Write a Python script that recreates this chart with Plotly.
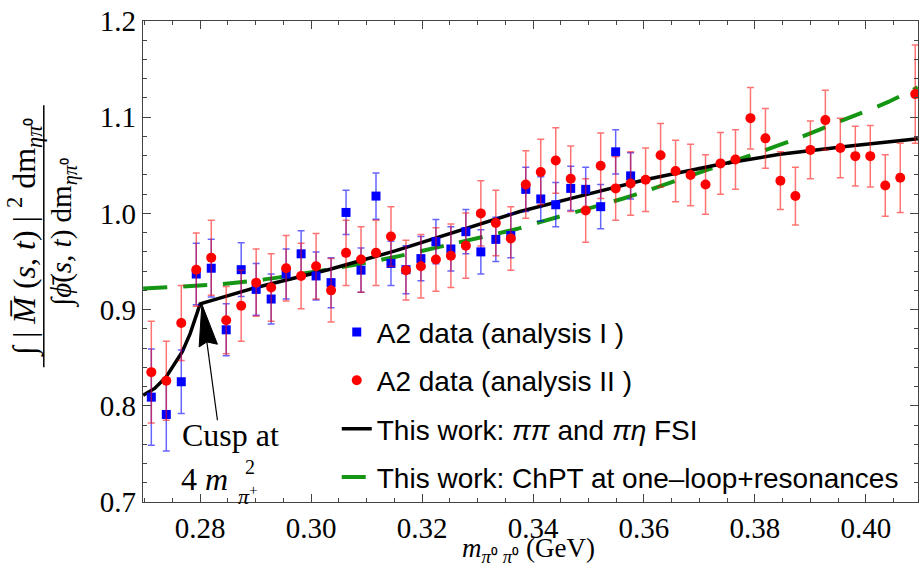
import plotly.graph_objects as go

# ---------------- data ----------------
m_pipi = [0.2712, 0.2739, 0.2766, 0.2793, 0.2820, 0.2847, 0.2874, 0.2901, 0.2928, 0.2955,
          0.2982, 0.3009, 0.3036, 0.3063, 0.3090, 0.3117, 0.3144, 0.3171, 0.3198, 0.3225,
          0.3252, 0.3279, 0.3306, 0.3333, 0.3360, 0.3387, 0.3414, 0.3441, 0.3468, 0.3495,
          0.3522, 0.3549, 0.3576, 0.3603, 0.3630, 0.3657, 0.3684, 0.3711, 0.3738, 0.3765,
          0.3792, 0.3819, 0.3846, 0.3873, 0.3900, 0.3927, 0.3954, 0.3981, 0.4008, 0.4035,
          0.4062, 0.4089]

ratio_II = [0.835, 0.826, 0.886, 0.9415, 0.954, 0.889, 0.904, 0.928, 0.923, 0.943,
            0.935, 0.945, 0.920, 0.959, 0.952, 0.959, 0.976, 0.941, 0.945, 0.952,
            0.956, 0.9665, 1.000, 0.990, 0.974, 1.030, 1.043, 1.055, 1.036, 1.003,
            1.0495, 1.026, 1.031, 1.035, 1.0605, 1.044, 1.040, 1.030, 1.052, 1.056,
            1.099, 1.078, 1.034, 1.018, 1.066, 1.097, 1.068, 1.0595, 1.0595, 1.029,
            1.037, 1.124]
err_II = [0.053, 0.041, 0.039, 0.038, 0.039, 0.035, 0.037, 0.035, 0.035, 0.034,
          0.034, 0.034, 0.033, 0.034, 0.034, 0.034, 0.031, 0.031, 0.033, 0.033,
          0.033, 0.034, 0.034, 0.034, 0.033, 0.035, 0.034, 0.034, 0.034, 0.033,
          0.034, 0.033, 0.033, 0.033, 0.033, 0.032, 0.032, 0.031, 0.032, 0.031,
          0.032, 0.031, 0.030, 0.030, 0.030, 0.031, 0.031, 0.031, 0.032, 0.032,
          0.036, 0.051]

m_pipi_I = m_pipi[:33]
ratio_I = [0.809, 0.791, 0.825, 0.937, 0.943, 0.879, 0.9415, 0.921, 0.911, 0.937,
           0.958, 0.935, 0.928, 1.001, 0.941, 1.018, 0.948, 0.9415, 0.953, 0.9706,
           0.963, 0.981, 0.960, 0.973, 0.977, 1.025, 1.015, 1.009, 1.026, 1.025,
           1.007, 1.064, 1.039]
err_I = [0.050, 0.038, 0.033, 0.032, 0.030, 0.027, 0.028, 0.027, 0.026, 0.026,
         0.024, 0.025, 0.026, 0.023, 0.023, 0.024, 0.023, 0.025, 0.023, 0.023,
         0.023, 0.023, 0.023, 0.023, 0.023, 0.023, 0.023, 0.023, 0.023, 0.023,
         0.023, 0.023, 0.024]

fsi_m = [0.26973, 0.27180, 0.27387, 0.27676, 0.27820, 0.28000, 0.29009, 0.30342, 0.31514,
         0.32595, 0.33766, 0.34847, 0.36018, 0.37369, 0.38450, 0.39712, 0.40937]
fsi_ratio = [0.811, 0.818, 0.830, 0.856, 0.875, 0.906, 0.923, 0.942, 0.961,
             0.981, 1.002, 1.018, 1.035, 1.051, 1.0615, 1.070, 1.0776]

chpt_m = [0.26973, 0.28270, 0.29117, 0.29477, 0.30342, 0.31423, 0.32595, 0.33766, 0.34126,
          0.35658, 0.36018, 0.37009, 0.38036, 0.38811, 0.39586, 0.40396, 0.40937]
chpt_ratio = [0.922, 0.926, 0.931, 0.934, 0.942, 0.9536, 0.969, 0.9847, 0.991,
              1.016, 1.0228, 1.0426, 1.0626, 1.079, 1.097, 1.1156, 1.131]

x_ticks = [0.28, 0.30, 0.32, 0.34, 0.36, 0.38, 0.40]
x_tick_labels = ["0.28", "0.30", "0.32", "0.34", "0.36", "0.38", "0.40"]
y_ticks = [0.7, 0.8, 0.9, 1.0, 1.1, 1.2]
y_tick_labels = ["0.7", "0.8", "0.9", "1.0", "1.1", "1.2"]

SERIF = "Liberation Serif"
SANS = "Liberation Sans"

fig = go.Figure()

fig.add_trace(go.Scatter(
    x=chpt_m, y=chpt_ratio, mode="lines",
    line=dict(color="rgb(20,150,20)", width=4, dash="24px,16px", shape="spline", smoothing=0.6),
    name="This work: ChPT at one\u2013loop+resonances", legendrank=4, legendgroup="d"))

fig.add_trace(go.Scatter(
    x=fsi_m, y=fsi_ratio, mode="lines",
    line=dict(color="black", width=3.5),
    name="This work: <i>\u03c0\u03c0</i> and <i>\u03c0\u03b7</i> FSI", legendrank=3, legendgroup="c"))

fig.add_trace(go.Scatter(
    x=m_pipi_I, y=ratio_I, mode="markers",
    marker=dict(symbol="square", size=9, color="rgb(0,0,255)"),
    error_y=dict(type="data", array=err_I, color="rgba(0,0,255,0.6)", thickness=1.5, width=3.5),
    name="A2 data (analysis I )", legendrank=1, legendgroup="a"))

fig.add_trace(go.Scatter(
    x=m_pipi, y=ratio_II, mode="markers",
    marker=dict(symbol="circle", size=10, color="rgb(255,0,0)"),
    error_y=dict(type="data", array=err_II, color="rgba(255,0,0,0.55)", thickness=1.5, width=3.5),
    name="A2 data (analysis II )", legendrank=2, legendgroup="b"))

axis_common = dict(showline=True, linecolor="#444", linewidth=1.2, mirror="ticks",
                   ticks="inside", ticklen=8, tickwidth=1.2, tickcolor="#444",
                   showgrid=False, zeroline=False, automargin=False,
                   tickfont=dict(family=SERIF, size=29, color="black"))

fig.update_xaxes(range=[0.2697, 0.4094], tickmode="array", tickvals=x_ticks, ticktext=x_tick_labels,
                 minor=dict(tickmode="linear", tick0=0.28, dtick=0.005, ticks="inside",
                            ticklen=4, tickcolor="#444", tickwidth=1), **axis_common)
fig.update_yaxes(range=[0.7, 1.2], tickmode="array", tickvals=y_ticks, ticktext=y_tick_labels,
                 minor=dict(tickmode="linear", tick0=0.7, dtick=0.02, ticks="inside",
                            ticklen=4, tickcolor="#444", tickwidth=1), **axis_common)

annotations = [
    # x-axis title
    dict(text="<i>m</i><sub><i>\u03c0</i>\u2070 <i>\u03c0</i>\u2070</sub> (GeV)", xref="paper", yref="paper",
         x=0.497, y=-0.1, xanchor="center", yanchor="middle", showarrow=False,
         font=dict(family=SERIF, size=27, color="black")),
    # y-axis title: numerator and denominator
    dict(text="\u222b | <i>M\u0305</i> (<i>s</i>, <i>t</i>) | <sup>2</sup> dm<sub><i>\u03b7\u03c0</i>\u2070</sub>",
         xref="paper", yref="paper", x=-0.153, y=0.55, xanchor="center", yanchor="middle",
         textangle=-90, showarrow=False, font=dict(family=SERIF, size=32, color="black")),
    dict(text="\u222b<i>\u03d5\u0304</i>(<i>s</i>, <i>t</i>) dm<sub><i>\u03b7\u03c0</i>\u2070</sub>",
         xref="paper", yref="paper", x=-0.103, y=0.56, xanchor="center", yanchor="middle",
         textangle=-90, showarrow=False, font=dict(family=SERIF, size=29, color="black")),
    # cusp annotation
    dict(text="Cusp at", xref="paper", yref="paper", x=0.113, y=0.14, xanchor="center",
         yanchor="middle", showarrow=False, font=dict(family=SERIF, size=32, color="black")),
    dict(text="4 <i>m</i>", xref="paper", yref="paper", x=0.046, y=0.048, xanchor="left",
         yanchor="middle", showarrow=False, font=dict(family=SERIF, size=32, color="black")),
    dict(text="2", xref="paper", yref="paper", x=0.129, y=0.073, xanchor="left",
         yanchor="middle", showarrow=False, font=dict(family=SERIF, size=20, color="black")),
    dict(text="<i>\u03c0</i><sup>+</sup>", xref="paper", yref="paper", x=0.12, y=0.014, xanchor="left",
         yanchor="middle", showarrow=False, font=dict(family=SERIF, size=22, color="black")),
]

shapes = [
    # fraction bar of the y title
    dict(type="line", xref="paper", yref="paper", x0=-0.128, x1=-0.128, y0=0.28, y1=0.825,
         line=dict(color="black", width=1.5)),
    # arrow shaft
    dict(type="line", xref="x", yref="y", x0=0.28121, y0=0.8664, x1=0.28312, y1=0.7850,
         line=dict(color="black", width=1.2)),
    # arrow head
    dict(type="path", xref="x", yref="y",
         path="M 0.28031 0.9055 L 0.27982 0.8612 L 0.28121 0.8664 L 0.28312 0.8640 Z",
         fillcolor="black", line=dict(color="black", width=1)),
]

fig.update_layout(
    width=923, height=570,
    margin=dict(l=143, r=5, t=21, b=68),
    plot_bgcolor="white", paper_bgcolor="white",
    showlegend=True,
    legend=dict(x=0.25, y=0.405, xanchor="left", yanchor="top",
                font=dict(family=SANS, size=28, color="black"),
                bgcolor="rgba(0,0,0,0)", tracegroupgap=9, itemwidth=30),
    annotations=annotations,
    shapes=shapes,
)

fig.write_html("out.html", config={"displayModeBar": False},
               post_script="document.body.style.margin='0px';document.body.style.overflow='hidden';")
